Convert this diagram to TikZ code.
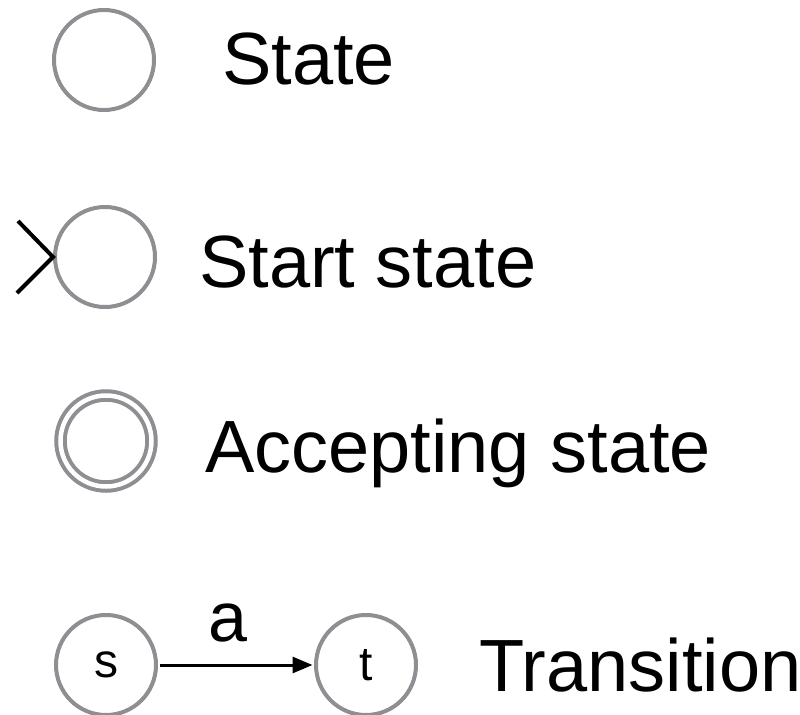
\documentclass[tikz,border=0pt]{standalone}
\usepackage{fontspec}
\setmainfont{Liberation Sans}
\usetikzlibrary{arrows.meta}
\definecolor{ringgray}{RGB}{142,142,147}
\begin{document}
\begin{tikzpicture}[x=1bp,y=-1bp,
  statering/.style={circle,draw=ringgray,line width=4bp,minimum size=100bp,inner sep=0pt},
  acceptring/.style={circle,draw=ringgray,line width=4bp,double=white,double distance=4.5bp,minimum size=91bp,inner sep=0pt},
  caption/.style={anchor=base west,inner sep=0pt,font=\fontsize{74bp}{80bp}\selectfont},
  smalllabel/.style={font=\fontsize{48bp}{52bp}\selectfont},
  edgelabel/.style={inner sep=0pt,font=\fontsize{70bp}{74bp}\selectfont},
  chevron/.style={line width=4bp,line join=miter},
  transarrow/.style={line width=3bp,-{Triangle[length=20bp,width=16bp]},shorten >=1.5bp,shorten <=1.5bp}]
\useasboundingbox (0,0) rectangle (800,715);

% plain state
\node[statering] (st) at (104,60) {};
\node[caption] (stlab) at (222,85) {State};

% start state with entry chevron
\node[statering] (start) at (105,257) {};
\coordinate (chtop) at (18,221);
\coordinate (chbot) at (17,293);
\draw[chevron] (chtop) -- (start.west) -- (chbot);
\node[caption] (startlab) at (199,287) {Start state};

% accepting state (double ring)
\node[acceptring] (acc) at (106,441) {};
\node[caption] (acclab) at (205,472) {Accepting state};

% transition s --a--> t
\node[statering,smalllabel] (s) at (106,665) {s};
\node[statering,smalllabel] (t) at (366,665) {t};
\draw[transarrow] (s) -- node[edgelabel,pos=0.45,anchor=base,yshift=24bp] (albl) {a} (t);
\node[caption] (trlab) at (479,691) {Transition};
\end{tikzpicture}
\end{document}
